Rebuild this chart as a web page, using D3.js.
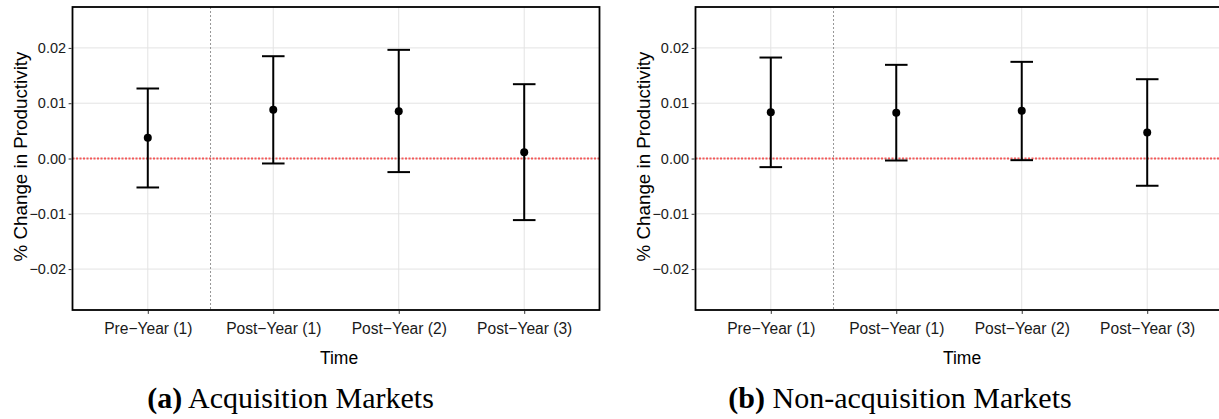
<!DOCTYPE html>
<html>
<head>
<meta charset="utf-8">
<script src="https://cdn.jsdelivr.net/npm/d3@7"></script>
<style>
  html, body { margin: 0; padding: 0; background: #fff; }
  svg { display: block; }
</style>
</head>
<body>
<script>
// ---- Data ----
const categories = ["Pre\u2212Year (1)", "Post\u2212Year (1)", "Post\u2212Year (2)", "Post\u2212Year (3)"];
const acqEstimate = [0.00374, 0.0088, 0.00856, 0.00115];
const acqLower    = [-0.00524, -0.0009, -0.00246, -0.01114];
const acqUpper    = [0.01266, 0.0185, 0.01965, 0.01344];
const nonEstimate = [0.00838, 0.00826, 0.00862, 0.0047];
const nonLower    = [-0.00156, -0.00036, -0.0003, -0.00493];
const nonUpper    = [0.01826, 0.01694, 0.01748, 0.01434];
const yTicks = [-0.02, -0.01, 0.00, 0.01, 0.02];
const yDomain = [-0.0274, 0.0274];
const yTitle = "% Change in Productivity";
const xTitle = "Time";
const captionTags = ["(a)", "(b)"];
const captionTexts = ["Acquisition Markets", "Non-acquisition Markets"];

const W = 1219, H = 419;
const svg = d3.select("body").append("svg").attr("width", W).attr("height", H);

const panels = [
  { x0: 72.5, x1: 599.5, est: acqEstimate, lo: acqLower, hi: acqUpper, capX: 290.5, tag: captionTags[0], cap: captionTexts[0] },
  { x0: 695.5, x1: 1222.5, est: nonEstimate, lo: nonLower, hi: nonUpper, capX: 900, tag: captionTags[1], cap: captionTexts[1] }
];
const plotTop = 7, plotBottom = 310;
const sans = "'Liberation Sans', Arial, Helvetica, sans-serif";

panels.forEach(p => {
  const g = svg.append("g");
  const x = d3.scalePoint().domain(categories).range([p.x0, p.x1]).padding(0.6);
  const y = d3.scaleLinear().domain(yDomain).range([plotBottom, plotTop]);
  const step = x.step();

  // grid
  g.append("g").selectAll("line").data(yTicks).join("line")
    .attr("x1", p.x0).attr("x2", p.x1)
    .attr("y1", d => y(d)).attr("y2", d => y(d))
    .attr("stroke", "#e3e3e3").attr("stroke-width", 1);
  g.append("g").selectAll("line").data(categories).join("line")
    .attr("x1", d => x(d)).attr("x2", d => x(d))
    .attr("y1", plotTop).attr("y2", plotBottom)
    .attr("stroke", "#e3e3e3").attr("stroke-width", 1);

  // vertical dashed line between pre and post
  const vx = (x(categories[0]) + x(categories[1])) / 2;
  g.append("line").attr("x1", vx).attr("x2", vx).attr("y1", plotTop).attr("y2", plotBottom)
    .attr("stroke", "#8a8a8a").attr("stroke-width", 0.9).attr("stroke-dasharray", "2,2");

  // zero line
  g.append("line").attr("x1", p.x0).attr("x2", p.x1).attr("y1", y(0)).attr("y2", y(0))
    .attr("stroke", "#f45858").attr("stroke-width", 1.8).attr("stroke-dasharray", "2,1.5");

  // error bars
  const capW = step * 0.18;
  const data = categories.map((c, i) => ({ c, est: p.est[i], lo: p.lo[i], hi: p.hi[i] }));
  const eb = g.append("g").attr("stroke", "#000").attr("stroke-width", 2).attr("fill", "none");
  eb.append("g").selectAll("line").data(data).join("line")
    .attr("x1", d => x(d.c)).attr("x2", d => x(d.c))
    .attr("y1", d => y(d.lo)).attr("y2", d => y(d.hi));
  eb.append("g").selectAll("line").data(data).join("line")
    .attr("x1", d => x(d.c) - capW / 2).attr("x2", d => x(d.c) + capW / 2)
    .attr("y1", d => y(d.hi)).attr("y2", d => y(d.hi));
  eb.append("g").selectAll("line").data(data).join("line")
    .attr("x1", d => x(d.c) - capW / 2).attr("x2", d => x(d.c) + capW / 2)
    .attr("y1", d => y(d.lo)).attr("y2", d => y(d.lo));
  g.append("g").selectAll("circle").data(data).join("circle")
    .attr("cx", d => x(d.c)).attr("cy", d => y(d.est)).attr("r", 4).attr("fill", "#000");

  // panel border
  g.append("rect").attr("x", p.x0).attr("y", plotTop)
    .attr("width", p.x1 - p.x0).attr("height", plotBottom - plotTop)
    .attr("fill", "none").attr("stroke", "#000").attr("stroke-width", 1.8);

  // y axis
  const ya = g.append("g").attr("transform", `translate(${p.x0 - 0.9},0)`)
    .call(d3.axisLeft(y).tickValues(yTicks).tickFormat(d3.format(".2f")).tickSize(3).tickPadding(2.5));
  ya.select(".domain").remove();
  ya.selectAll(".tick line").attr("stroke", "#333");
  ya.selectAll(".tick text").attr("font-family", sans).attr("font-size", 14.5).attr("fill", "#1a1a1a");

  // x axis
  const xa = g.append("g").attr("transform", `translate(0,${plotBottom + 0.9})`)
    .call(d3.axisBottom(x).tickSize(3).tickPadding(9.5));
  xa.select(".domain").remove();
  xa.selectAll(".tick line").attr("stroke", "#333");
  xa.selectAll(".tick text").attr("font-family", sans).attr("font-size", 15.6).attr("fill", "#1a1a1a");

  // axis titles
  g.append("text").attr("x", (p.x0 + p.x1) / 2 + 3).attr("y", 364)
    .attr("text-anchor", "middle").attr("font-family", sans).attr("font-size", 17.5).attr("fill", "#000")
    .text(xTitle);
  const ty = (plotTop + plotBottom) / 2 - 2;
  const tx = p.x0 - 45.5;
  g.append("text").attr("transform", `translate(${tx},${ty}) rotate(-90)`)
    .attr("text-anchor", "middle").attr("font-family", sans).attr("font-size", 18.8).attr("fill", "#000")
    .text(yTitle);

  // caption
  const cap = svg.append("text").attr("x", p.capX).attr("y", 408).attr("text-anchor", "middle")
    .attr("font-family", "'Liberation Serif', 'Times New Roman', serif").attr("font-size", 30).attr("fill", "#000");
  cap.append("tspan").attr("font-weight", "bold").text(p.tag);
  cap.append("tspan").text(" " + p.cap);
});
</script>
</body>
</html>
